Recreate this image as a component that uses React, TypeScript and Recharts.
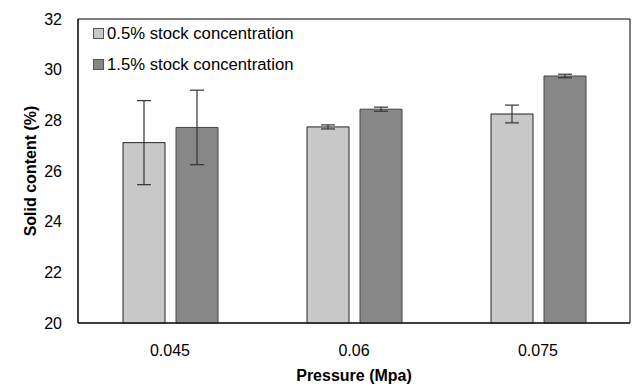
import React from 'react';
import { BarChart, Bar, XAxis, YAxis, ErrorBar, ReferenceArea } from 'recharts';

const categories = ['0.045', '0.06', '0.075'];
const lowStock = [27.12, 27.74, 28.25];
const lowStockErr = [1.66, 0.08, 0.35];
const highStock = [27.72, 28.44, 29.75];
const highStockErr = [1.47, 0.08, 0.07];
const yTicks = [20, 22, 24, 26, 28, 30, 32];

const seriesNames = ['0.5% stock concentration', '1.5% stock concentration'];
const colors = ['#c8c8c8', '#878787'];

const data = categories.map((c, i) => ({
  pressure: c,
  low: lowStock[i],
  lowErr: lowStockErr[i],
  high: highStock[i],
  highErr: highStockErr[i],
}));

const FONT = '"Liberation Sans", Arial, sans-serif';

export default function App() {
  return (
    <div style={{ position: 'absolute', left: 0, top: 0, width: 642, height: 389, background: '#fff' }}>
      <BarChart
        width={642}
        height={389}
        data={data}
        margin={{ top: 19, right: 12, bottom: 36, left: 0 }}
        barSize={42}
        barGap={11}
      >
        <XAxis
          dataKey="pressure"
          tickLine={false}
          axisLine={{ stroke: '#000' }}
          tick={{ fill: '#000', fontSize: 16, fontFamily: FONT }}
          tickMargin={16}
          label={{
            value: 'Pressure (Mpa)',
            position: 'bottom',
            offset: 17,
            style: { fill: '#000', fontSize: 16, fontWeight: 'bold', fontFamily: FONT },
          }}
        />
        <YAxis
          width={78}
          domain={[20, 32]}
          ticks={yTicks}
          tickLine={false}
          axisLine={{ stroke: '#000' }}
          tick={{ fill: '#000', fontSize: 16, fontFamily: FONT }}
          tickMargin={10}
          label={{
            value: 'Solid content (%)',
            angle: -90,
            position: 'insideLeft',
            offset: 30,
            style: { fill: '#000', fontSize: 16, fontWeight: 'bold', fontFamily: FONT, textAnchor: 'middle' },
          }}
        />
        <ReferenceArea y1={20} y2={32} fill="none" stroke="#000" strokeWidth={1} ifOverflow="visible" />
        <Bar dataKey="low" name={seriesNames[0]} fill={colors[0]} stroke="#222" strokeWidth={1} isAnimationActive={false}>
          <ErrorBar dataKey="lowErr" width={7} stroke="#333" strokeWidth={1.2} />
        </Bar>
        <Bar dataKey="high" name={seriesNames[1]} fill={colors[1]} stroke="#444" strokeWidth={1} isAnimationActive={false}>
          <ErrorBar dataKey="highErr" width={7} stroke="#333" strokeWidth={1.2} />
        </Bar>
      </BarChart>
      <div style={{ position: 'absolute', left: 93, top: 18, fontFamily: FONT, fontSize: 16.7, color: '#000' }}>
        {seriesNames.map((name, i) => (
          <div key={i} style={{ display: 'flex', alignItems: 'center', height: 31 }}>
            <span
              style={{
                display: 'inline-block',
                width: 9,
                height: 9,
                background: colors[i],
                border: '1px solid #555',
                marginRight: 3,
              }}
            />
            <span>{name}</span>
          </div>
        ))}
      </div>
    </div>
  );
}
